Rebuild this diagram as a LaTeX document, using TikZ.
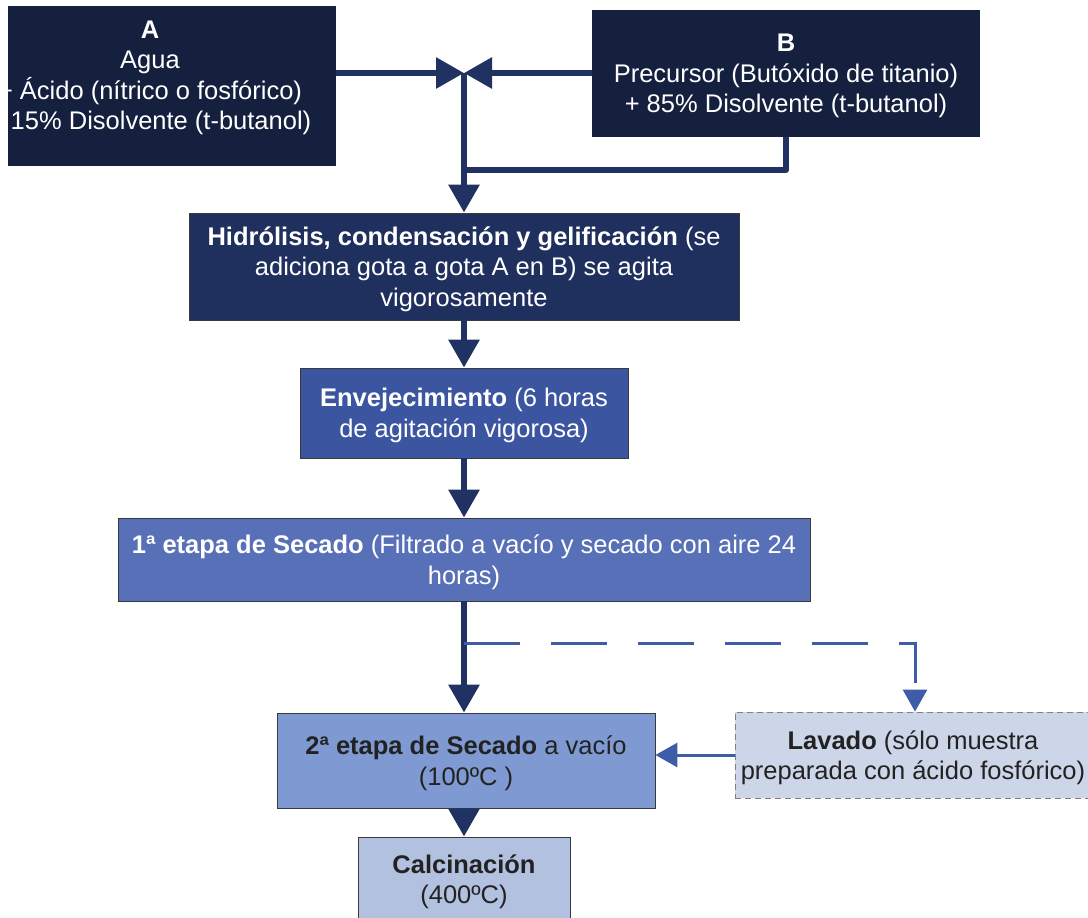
\documentclass[tikz,border=0pt]{standalone}
\usepackage{fontspec}
\setmainfont{Liberation Sans}
\usetikzlibrary{arrows.meta}
\definecolor{navydeep}{HTML}{15203F}
\definecolor{navymid}{HTML}{1F2F5E}
\definecolor{bluestep}{HTML}{3C55A0}
\definecolor{bluedry}{HTML}{5770B7}
\definecolor{bluevac}{HTML}{7F9AD2}
\definecolor{bluecalc}{HTML}{B3C1E0}
\definecolor{bluewash}{HTML}{CDD5E8}
\definecolor{flow}{HTML}{1F3262}
\definecolor{flowlight}{HTML}{3F5CA9}
\definecolor{boxline}{HTML}{3A3A3A}
\definecolor{darktext}{HTML}{222222}
\begin{document}
\begin{tikzpicture}[x=1pt,y=-1pt,
  box/.style={rectangle, draw=boxline, line width=0.8pt, inner sep=0pt, align=center,
    text depth=0pt, font=\fontsize{25.5}{30.5}\selectfont},
  txt/.style={inner sep=0pt, align=center, font=\fontsize{25.5}{30.5}\selectfont},
  thickline/.style={draw=flow, line width=6pt},
  thickarrow/.style={thickline, -{Triangle[length=28pt,width=30pt]}},
  thinarrow/.style={draw=flowlight, line width=3pt, -{Triangle[length=22pt,width=24pt]}},
]
\useasboundingbox (0,0) rectangle (1088,918);

% input solutions
\node[box, fill=navydeep, draw=none, minimum width=328pt, minimum height=160pt] (A) at (172,86) {};
\node[txt, text=white] (Atxt) at (150,78)
  {\textbf{A}\\Agua\\+ Ácido (nítrico o fosfórico)\\+ 15\% Disolvente (t-butanol)};
\node[box, fill=navydeep, draw=none, text=white, minimum width=388pt, minimum height=127pt] (B) at (786,73.5)
  {\textbf{B}\\Precursor (Butóxido de titanio)\\+ 85\% Disolvente (t-butanol)};

% process steps
\node[box, fill=navymid, text=white, minimum width=550pt, minimum height=107pt] (H) at (464,266.5)
  {\textbf{Hidrólisis, condensación y gelificación} (se\\adiciona gota a gota A en B) se agita\\vigorosamente};
\node[box, fill=bluestep, text=white, minimum width=328pt, minimum height=90pt] (E) at (464,413)
  {\textbf{Envejecimiento} (6 horas\\de agitación vigorosa)};
\node[box, fill=bluedry, text=white, minimum width=692pt, minimum height=83pt] (S1) at (464,559.5)
  {\textbf{1ª etapa de Secado} (Filtrado a vacío y secado con aire 24\\horas)};
\node[box, fill=bluevac, text=darktext, minimum width=378pt, minimum height=95pt] (S2) at (466,760.5)
  {\textbf{2ª etapa de Secado} a vacío\\(100ºC )};
\node[box, fill=bluewash, draw=gray, dashed, dash pattern=on 6pt off 4pt, text=darktext,
  minimum width=356pt, minimum height=86pt] (L) at (913,755)
  {\textbf{Lavado} (sólo muestra\\preparada con ácido fosfórico)};
\node[box, fill=bluecalc, text=darktext, minimum width=212pt, minimum height=84pt] (C) at (464,879)
  {\textbf{Calcinación}\\(400ºC)};

% junction points of the flow lines
\coordinate (j) at (464,73);
\coordinate (m) at (464,170);
\coordinate (k) at (464,643);
\coordinate (dk) at (915,643);

% connectors
\draw[thickarrow] (A.east |- j) -- (j);
\draw[thickarrow] (B.west |- j) -- (j);
\draw[thickline, line join=round] (B.south) |- (m);
\draw[thickarrow] (j) -- (H.north);
\draw[thickarrow] (H.south) -- (E.north);
\draw[thickarrow] (E.south) -- (S1.north);
\draw[thickarrow] (S1.south) -- (k |- S2.north);
\draw[thinarrow, dash pattern=on 56pt off 31pt] (k) -- (dk) -- (dk |- L.north);
\draw[thinarrow] (L.west) -- (S2.east |- L.west);
\draw[thickarrow] (k |- S2.south) -- (C.north);
\end{tikzpicture}
\end{document}
